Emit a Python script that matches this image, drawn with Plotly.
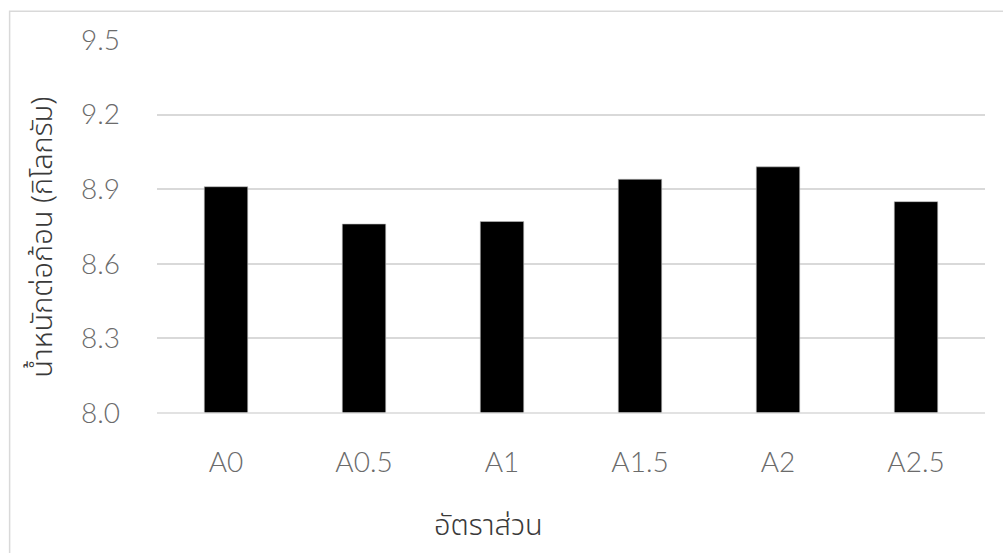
import plotly.graph_objects as go

# Mix ratios and average block weight (kg)
ratios = ["A0", "A0.5", "A1", "A1.5", "A2", "A2.5"]
weights = [8.91, 8.76, 8.77, 8.94, 8.99, 8.85]

y_ticks = [8.0, 8.3, 8.6, 8.9, 9.2, 9.5]
y_tick_labels = ["8.0", "8.3", "8.6", "8.9", "9.2", "9.5"]

x_title = "อัตราส่วน"
y_title = "น้ำหนักต่อก้อน (กิโลกรัม)"

TICK_FONT = dict(family="Lato, Noto Sans, sans-serif", size=28, color="#6b6b6b", weight=300)
TITLE_FONT = dict(family="Noto Sans, Noto Sans Thai, sans-serif", size=29,
                  color="#3a3a3a", weight=300)

fig = go.Figure(
    go.Bar(
        x=ratios,
        y=weights,
        width=0.315,
        marker=dict(color="#000000", line=dict(color="#bfbfbf", width=0.6)),
    )
)

fig.update_layout(
    width=1003,
    height=553,
    margin=dict(l=157, r=18, t=40, b=140),
    paper_bgcolor="white",
    plot_bgcolor="white",
    showlegend=False,
)

fig.update_xaxes(
    type="category",
    showgrid=False,
    showline=False,
    tickfont=TICK_FONT,
    ticklabelstandoff=30,
    ticks="",
)

fig.update_yaxes(
    range=[8.0, 9.5],
    tickvals=y_ticks,
    ticktext=y_tick_labels,
    showgrid=True,
    gridcolor="#d9d9d9",
    gridwidth=1.5,
    zeroline=False,
    showline=False,
    ticks="",
    tickfont=TICK_FONT,
    ticklabelstandoff=36,
)

# Baseline at the bottom of the value axis
fig.add_shape(
    type="line", xref="paper", yref="paper",
    x0=0, x1=1, y0=0, y1=0,
    line=dict(color="#d9d9d9", width=1.5),
)

# Chart-area frame (runs off the right and bottom edges)
fig.add_shape(
    type="rect", xref="paper", yref="paper",
    x0=-0.178, x1=1.2, y0=-0.6, y1=1.077,
    line=dict(color="#d9d9d9", width=1.5),
    layer="below",
)

# Axis titles
fig.add_annotation(
    text=y_title, xref="paper", yref="paper",
    x=-0.14, y=0.47, textangle=-90,
    showarrow=False, font=TITLE_FONT,
    xanchor="center", yanchor="middle",
)
fig.add_annotation(
    text=x_title, xref="paper", yref="paper",
    x=0.4, y=-0.295,
    showarrow=False, font=TITLE_FONT,
    xanchor="center", yanchor="middle",
)

fig.write_html("out.html")
